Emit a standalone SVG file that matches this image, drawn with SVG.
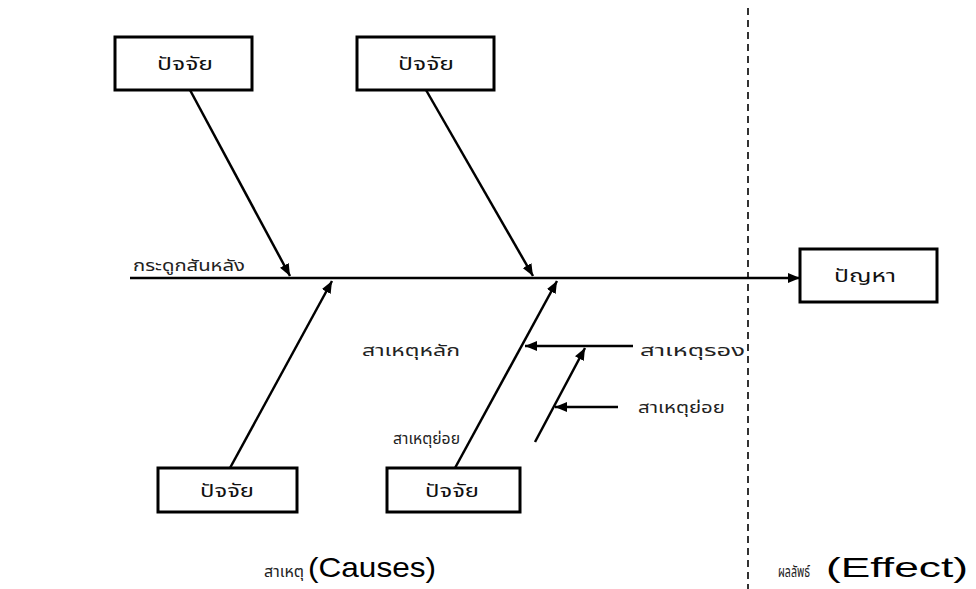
<svg xmlns="http://www.w3.org/2000/svg" width="976" height="589" viewBox="0 0 976 589">
<style>
.box{fill:#fff;stroke:#000;stroke-width:3}
.ln{stroke:#000;stroke-width:2.5;fill:none}
.t{font-family:"Noto Sans Thai","Noto Sans","DejaVu Sans",sans-serif;font-size:16px;fill:#222}
.bt{font-family:"Noto Sans Thai","Noto Sans","DejaVu Sans",sans-serif;font-size:18px;fill:#111}
.en{font-family:"Liberation Sans",Arial,sans-serif;font-size:28px;fill:#000}
</style>
<defs>
<marker id="ah" viewBox="0 0 12 10" refX="12" refY="5" markerWidth="12" markerHeight="10" markerUnits="userSpaceOnUse" orient="auto">
<path d="M0,0 L12,5 L0,10 Z" fill="#000"/>
</marker>
</defs>
<rect width="976" height="589" fill="#fff"/>
<g id="connectors">
<line class="ln" x1="130" y1="278" x2="800" y2="278" marker-end="url(#ah)"/>
<line class="ln" x1="190" y1="90" x2="290" y2="276" marker-end="url(#ah)"/>
<line class="ln" x1="426" y1="90" x2="533" y2="276" marker-end="url(#ah)"/>
<line class="ln" x1="230" y1="468" x2="332" y2="281" marker-end="url(#ah)"/>
<line class="ln" x1="455" y1="468" x2="557" y2="281" marker-end="url(#ah)"/>
<line class="ln" x1="633" y1="346" x2="525" y2="346" marker-end="url(#ah)"/>
<line class="ln" x1="535" y1="442" x2="585" y2="348" marker-end="url(#ah)"/>
<line class="ln" x1="618" y1="407" x2="555" y2="407" marker-end="url(#ah)"/>
<line x1="748" y1="8" x2="748" y2="589" stroke="#000" stroke-width="1.6" stroke-dasharray="7 5"/>
</g>
<g id="factor-top-1"><rect class="box" x="115" y="37" width="137" height="53"/><text class="bt" x="157" y="70" textLength="56" lengthAdjust="spacingAndGlyphs">ปัจจัย</text></g>
<g id="factor-top-2"><rect class="box" x="357" y="37" width="137" height="53"/><text class="bt" x="398" y="70" textLength="56" lengthAdjust="spacingAndGlyphs">ปัจจัย</text></g>
<g id="factor-bottom-1"><rect class="box" x="158" y="468" width="139" height="44"/><text class="bt" x="200" y="497" textLength="54" lengthAdjust="spacingAndGlyphs">ปัจจัย</text></g>
<g id="factor-bottom-2"><rect class="box" x="387" y="468" width="133" height="44"/><text class="bt" x="425" y="497" textLength="54" lengthAdjust="spacingAndGlyphs">ปัจจัย</text></g>
<g id="problem"><rect class="box" x="800" y="249" width="137" height="53"/><text class="bt" x="834" y="282" textLength="62" lengthAdjust="spacingAndGlyphs">ปัญหา</text></g>
<g id="labels">
<text class="t" x="133" y="271" textLength="112" lengthAdjust="spacingAndGlyphs">กระดูกสันหลัง</text>
<text class="t" x="362" y="356" textLength="98" lengthAdjust="spacingAndGlyphs">สาเหตุหลัก</text>
<text class="t" x="640" y="356" textLength="105" lengthAdjust="spacingAndGlyphs">สาเหตุรอง</text>
<text class="t" x="638" y="413" textLength="87" lengthAdjust="spacingAndGlyphs">สาเหตุย่อย</text>
<text class="t" x="393" y="444" font-size="13" textLength="67" lengthAdjust="spacingAndGlyphs">สาเหตุย่อย</text>
<text class="t" x="264" y="577" textLength="40" lengthAdjust="spacingAndGlyphs">สาเหตุ</text>
<text class="en" x="308" y="577" textLength="128" lengthAdjust="spacingAndGlyphs">(Causes)</text>
<text class="t" x="778" y="577" textLength="32" lengthAdjust="spacingAndGlyphs">ผลลัพธ์</text>
<text class="en" x="826" y="577" textLength="142" lengthAdjust="spacingAndGlyphs">(Effect)</text>
</g>
</svg>
